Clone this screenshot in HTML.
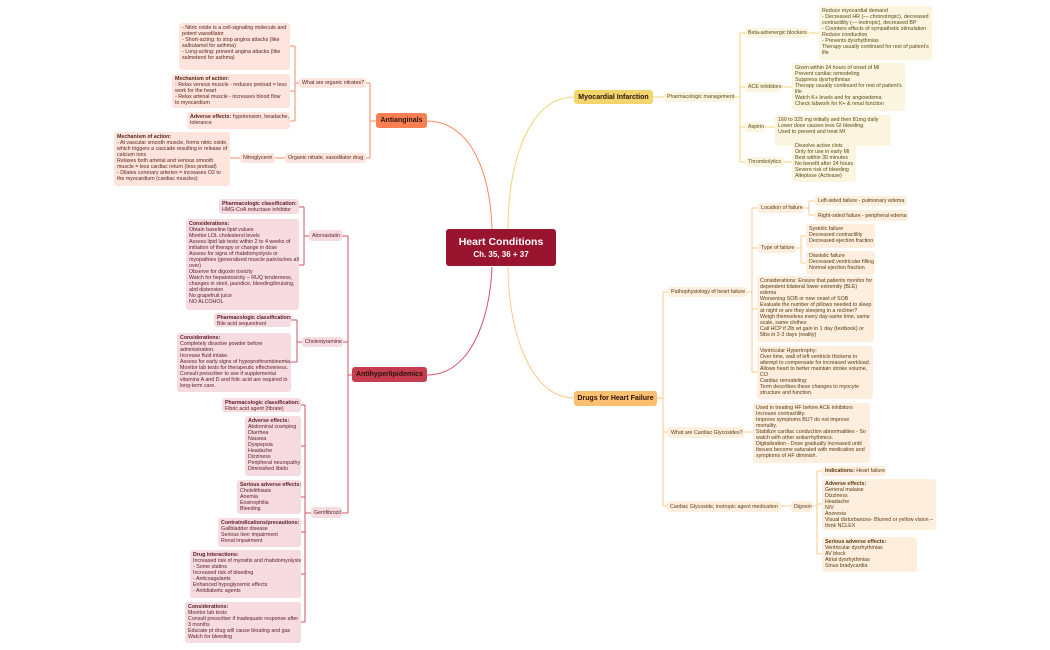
<!DOCTYPE html>
<html><head><meta charset="utf-8">
<style>
html,body{margin:0;padding:0;background:#fff;}
body{width:1050px;height:650px;position:relative;overflow:hidden;font-family:"Liberation Sans",sans-serif;}
.b{position:absolute;box-sizing:border-box;font-size:5.3px;line-height:6px;padding:2px 3px;border-radius:3px;white-space:nowrap;}
.o{background:#fde5dd;color:#5b2518;}
.r{background:#f6dbe0;color:#5a1c26;}
.y{background:#fbf5df;color:#5a4a16;}
.h{background:#fdeedd;color:#5a3a14;}
.l{padding:0 3px;display:flex;align-items:center;}
b{font-weight:bold;}
.m{position:absolute;box-sizing:border-box;border-radius:3px;font-size:7px;font-weight:bold;display:flex;align-items:center;justify-content:center;color:#2a1208;}
svg{position:absolute;left:0;top:0;}
</style></head><body>
<svg width="1050" height="650" fill="none" stroke-width="1">
<g stroke="#f68a62">
<path d="M426,121 C470,121 490,170 492,229"/>
<path d="M376,121 H370 M370,83 V158 M370,83 H366 M370,158 H366"/>
<path d="M299,83 H295 M295,46 V121 M295,46 H290 M295,91 H290 M295,121 H290"/>
<path d="M285,158 H275 M240,158 H230"/>
</g>
<g stroke="#d05366">
<path d="M427,375 C470,375 490,320 492,267"/>
<path d="M352,375 H348 M348,236 V513 M348,236 H342 M348,342 H343 M348,513 H342"/>
<path d="M309,236 H304 M304,207 V265 M304,207 H299 M304,265 H299"/>
<path d="M302,342 H297 M297,320 V362 M297,320 H291 M297,362 H291"/>
<path d="M311,513 H305 M305,405 V622 M305,405 H301 M305,446 H301 M305,497 H301 M305,532 H301 M305,574 H301 M305,622 H301"/>
</g>
<g stroke="#f2d677">
<path d="M574,97 C530,97 508,160 508,229"/>
<path d="M653,97 H664 M734,97 H740 M740,33 V162 M740,33 H745 M740,87 H745 M740,127 H745 M740,162 H745"/>
<path d="M809,33 H819 M781,87 H792 M765,127 H775 M784,162 H792"/>
</g>
<g stroke="#fcc98a">
<path d="M574,398 C530,398 508,330 508,267"/>
<path d="M657,398 H663 M663,292 V506 M663,292 H668 M663,432 H668 M663,506 H667"/>
<path d="M747,292 H752 M752,208 V372 M752,208 H758 M752,248 H758 M752,309 H757 M752,372 H757"/>
<path d="M803,208 H809 M809,201 V215 M809,201 H815 M809,215 H815"/>
<path d="M796,248 H801 M801,236 V263 M801,236 H806 M801,263 H806"/>
<path d="M744,432 H753 M781,506 H791 M812,506 H817 M817,471 V554 M817,471 H822 M817,504 H822 M817,554 H822"/>
</g>
</svg>

<!-- center -->
<div class="m" style="left:446px;top:229px;width:110px;height:37px;background:#98142f;color:#fff;flex-direction:column;font-weight:bold;">
<div style="font-size:10.5px;line-height:13px;">Heart Conditions</div>
<div style="font-size:8px;line-height:11px;">Ch. 35, 36 + 37</div></div>
<div class="m" style="left:376px;top:113px;width:51px;height:15px;background:#fa7f53;">Antianginals</div>
<div class="m" style="left:574px;top:90px;width:79px;height:14px;background:#f2d56c;">Myocardial Infarction</div>
<div class="m" style="left:352px;top:367px;width:75px;height:15px;background:#c63d50;">Antihyperlipidemics</div>
<div class="m" style="left:574px;top:391px;width:83px;height:15px;background:#fcbf70;">Drugs for Heart Failure</div>

<!-- antianginals -->
<div class="b o" style="left:179px;top:23px;width:111px;height:47px;">- Nitric oxide is a cell-signaling molecule and<br>potent vasodilator<br>- Short-acting: to stop angina attacks (like<br>salbutamol for asthma)<br>- Long-acting: prevent angina attacks (like<br>salmeterol for asthma)</div>
<div class="b o" style="left:172px;top:74px;width:118px;height:34px;"><b>Mechanism of action:</b><br>- Relax venous muscle - reduces preload = less<br>work for the heart<br>- Relax arterial muscle - increases blood flow<br>to myocardium</div>
<div class="b o" style="left:187px;top:112px;width:103px;height:17px;"><b>Adverse effects:</b> hypotension, headache,<br>tolerance</div>
<div class="b o l" style="left:299px;top:78px;width:67px;height:10px;">What are organic nitrates?</div>
<div class="b o l" style="left:285px;top:153px;width:81px;height:10px;">Organic nitrate, vasodilator drug</div>
<div class="b o l" style="left:240px;top:153px;width:35px;height:10px;">Nitroglycerin</div>
<div class="b o" style="left:114px;top:132px;width:116px;height:54px;"><b>Mechanism of action:</b><br>- At vascular smooth muscle, forms nitric oxide,<br>which triggers a cascade resulting in release of<br>calcium ions<br>Relaxes both arterial and venous smooth<br>muscle = less cardiac return (less preload)<br>- Dilates coronary arteries = increases O2 to<br>the myocardium (cardiac muscles)</div>

<!-- lipids -->
<div class="b r" style="left:219px;top:199px;width:80px;height:15px;padding-top:1.5px;"><b>Pharmacologic classification:</b><br>HMG-CoA reductase inhibitor</div>
<div class="b r" style="left:186px;top:219px;width:113px;height:91px;"><b>Considerations:</b><br>Obtain baseline lipid values<br>Monitor LDL cholesterol levels<br>Assess lipid lab tests within 2 to 4 weeks of<br>initiation of therapy or change in dose<br>Assess for signs of rhabdomyolysis or<br>myopathies (generalized muscle pain/aches all<br>over)<br>Observe for digoxin toxicity<br>Watch for hepatotoxicity – RUQ tenderness,<br>changes in stool, jaundice, bleeding/bruising,<br>abd distension<br>No grapefruit juice<br>NO ALCOHOL</div>
<div class="b r l" style="left:309px;top:230px;width:33px;height:11px;">Atorvastatin</div>
<div class="b r" style="left:214px;top:313px;width:77px;height:14px;padding-top:1.5px;"><b>Pharmacologic classification:</b><br>Bile acid sequestrant</div>
<div class="b r" style="left:177px;top:333px;width:114px;height:59px;"><b>Considerations:</b><br>Completely dissolve powder before<br>administration.<br>Increase fluid intake.<br>Assess for early signs of hypoprothrombinemia.<br>Monitor lab tests for therapeutic effectiveness.<br>Consult prescriber to see if supplemental<br>vitamins A and D and folic acid are required in<br>long-term care.</div>
<div class="b r l" style="left:302px;top:337px;width:41px;height:10px;">Cholestyramine</div>
<div class="b r" style="left:222px;top:398px;width:79px;height:14px;padding-top:1.5px;"><b>Pharmacologic classification:</b><br>Fibric acid agent (fibrate)</div>
<div class="b r" style="left:245px;top:416px;width:56px;height:60px;"><b>Adverse effects:</b><br>Abdominal cramping<br>Diarrhea<br>Nausea<br>Dyspepsia<br>Headache<br>Dizziness<br>Peripheral neuropathy<br>Diminished libido</div>
<div class="b r" style="left:237px;top:480px;width:64px;height:34px;"><b>Serious adverse effects:</b><br>Cholelithiasis<br>Anemia<br>Eosinophilia<br>Bleeding</div>
<div class="b r" style="left:218px;top:518px;width:83px;height:29px;"><b>Contraindications/precautions:</b><br>Gallbladder disease<br>Serious liver impairment<br>Renal impairment</div>
<div class="b r" style="left:190px;top:550px;width:111px;height:48px;"><b>Drug interactions:</b><br>Increased risk of myositis and rhabdomyolysis<br>- Some statins<br>Increased risk of bleeding<br>- Anticoagulants<br>Enhanced hypoglycemic effects<br>- Antidiabetic agents</div>
<div class="b r" style="left:185px;top:602px;width:116px;height:41px;"><b>Considerations:</b><br>Monitor lab tests<br>Consult prescriber if inadequate response after<br>3 months<br>Educate pt drug will cause bloating and gas<br>Watch for bleeding</div>
<div class="b r l" style="left:311px;top:507px;width:31px;height:11px;">Gemfibrozil</div>

<!-- MI -->
<div class="b y l" style="left:664px;top:92px;width:70px;height:10px;">Pharmacologic management</div>
<div class="b y l" style="left:745px;top:28px;width:64px;height:10px;">Beta-adrenergic blockers</div>
<div class="b y" style="left:819px;top:6px;width:113px;height:54px;">Reduce myocardial demand<br>- Decreased HR (— chronotropic), decreased<br>contractility (— inotropic), decreased BP<br>- Counters effects of sympathetic stimulation<br>Reduce conduction<br>- Prevents dysrhythmias<br>Therapy usually continued for rest of patient's<br>life</div>
<div class="b y l" style="left:745px;top:82px;width:36px;height:10px;">ACE inhibitors</div>
<div class="b y" style="left:792px;top:63px;width:113px;height:48px;">Given within 24 hours of onset of MI<br>Prevent cardiac remodeling<br>Suppress dysrhythmias<br>Therapy usually continued for rest of patient's<br>life<br>Watch K+ levels and for angioedema<br>Check labwork for K+ &amp; renal function</div>
<div class="b y l" style="left:745px;top:122px;width:20px;height:10px;">Aspirin</div>
<div class="b y" style="left:775px;top:115px;width:116px;height:31px;">160 to 325 mg initially and then 81mg daily<br>Lower dose causes less GI bleeding.<br> Used to prevent and treat MI</div>
<div class="b y l" style="left:745px;top:157px;width:39px;height:10px;">Thrombolytics</div>
<div class="b y" style="left:792px;top:141px;width:64px;height:41px;">Dissolve active clots<br>Only for use in early MI<br>Best within 30 minutes<br>No benefit after 24 hours<br>Severe risk of bleeding<br>Alteplase (Activase)</div>

<!-- HF -->
<div class="b h l" style="left:668px;top:287px;width:79px;height:10px;">Pathophysiology of heart failure</div>
<div class="b h l" style="left:758px;top:203px;width:45px;height:10px;">Location of failure</div>
<div class="b h l" style="left:815px;top:196px;width:92px;height:10px;">Left-sided failure - pulmonary edema</div>
<div class="b h l" style="left:815px;top:210px;width:93px;height:11px;">Right-sided failure - peripheral edema</div>
<div class="b h l" style="left:758px;top:243px;width:38px;height:10px;">Type of failure</div>
<div class="b h" style="left:806px;top:224px;width:69px;height:24px;">Systolic failure<br>Decreased contractility<br>Decreased ejection fraction</div>
<div class="b h" style="left:806px;top:251px;width:69px;height:24px;">Diastolic failure<br>Decreased ventricular filling<br>Normal ejection fraction</div>
<div class="b h" style="left:757px;top:276px;width:117px;height:66px;">Considerations: Ensure that patients monitor for<br>dependent bilateral lower extremity (BLE)<br>edema<br>Worsening SOB or new onset of SOB<br>Evaluate the number of pillows needed to sleep<br>at night or are they sleeping in a recliner?<br>Weigh themselves every day-same time, same<br>scale, same clothes<br>Call HCP if 2lb wt gain in 1 day (textbook) or<br>5lbs in 2-3 days (reality)</div>
<div class="b h" style="left:757px;top:346px;width:116px;height:53px;">Ventricular Hypertrophy:<br>Over time, wall of left ventricle thickens in<br>attempt to compensate for increased workload.<br>Allows heart to better maintain stroke volume,<br>CO<br>Cardiac remodeling:<br>Term describes these changes to myocyte<br>structure and function.</div>
<div class="b h l" style="left:668px;top:427px;width:76px;height:11px;">What are Cardiac Glycosides?</div>
<div class="b h" style="left:753px;top:403px;width:117px;height:60px;">Used in treating HF before ACE inhibitors<br>Increase contractility.<br>Improve symptoms BUT do not improve<br>mortality.<br>Stabilize cardiac conduction abnormalities - So<br>watch with other antiarrhythmics.<br>Digitalization - Dose gradually increased until<br>tissues become saturated with medication and<br>symptoms of HF diminish.</div>
<div class="b h l" style="left:667px;top:501px;width:114px;height:11px;">Cardiac Glycoside, inotropic agent medication</div>
<div class="b h l" style="left:791px;top:501px;width:21px;height:11px;">Digoxin</div>
<div class="b h l" style="left:822px;top:466px;width:64px;height:10px;"><b>Indications:</b>&nbsp;Heart failure</div>
<div class="b h" style="left:822px;top:479px;width:114px;height:51px;"><b>Adverse effects:</b><br>General malaise<br>Dizziness<br>Headache<br>N/V<br>Anorexia<br>Visual disturbances- Blurred or yellow vision –<br>think NCLEX</div>
<div class="b h" style="left:822px;top:537px;width:95px;height:35px;"><b>Serious adverse effects:</b><br>Ventricular dysrhythmias<br>AV block<br>Atrial dysrhythmias<br>Sinus bradycardia</div>
</body></html>
